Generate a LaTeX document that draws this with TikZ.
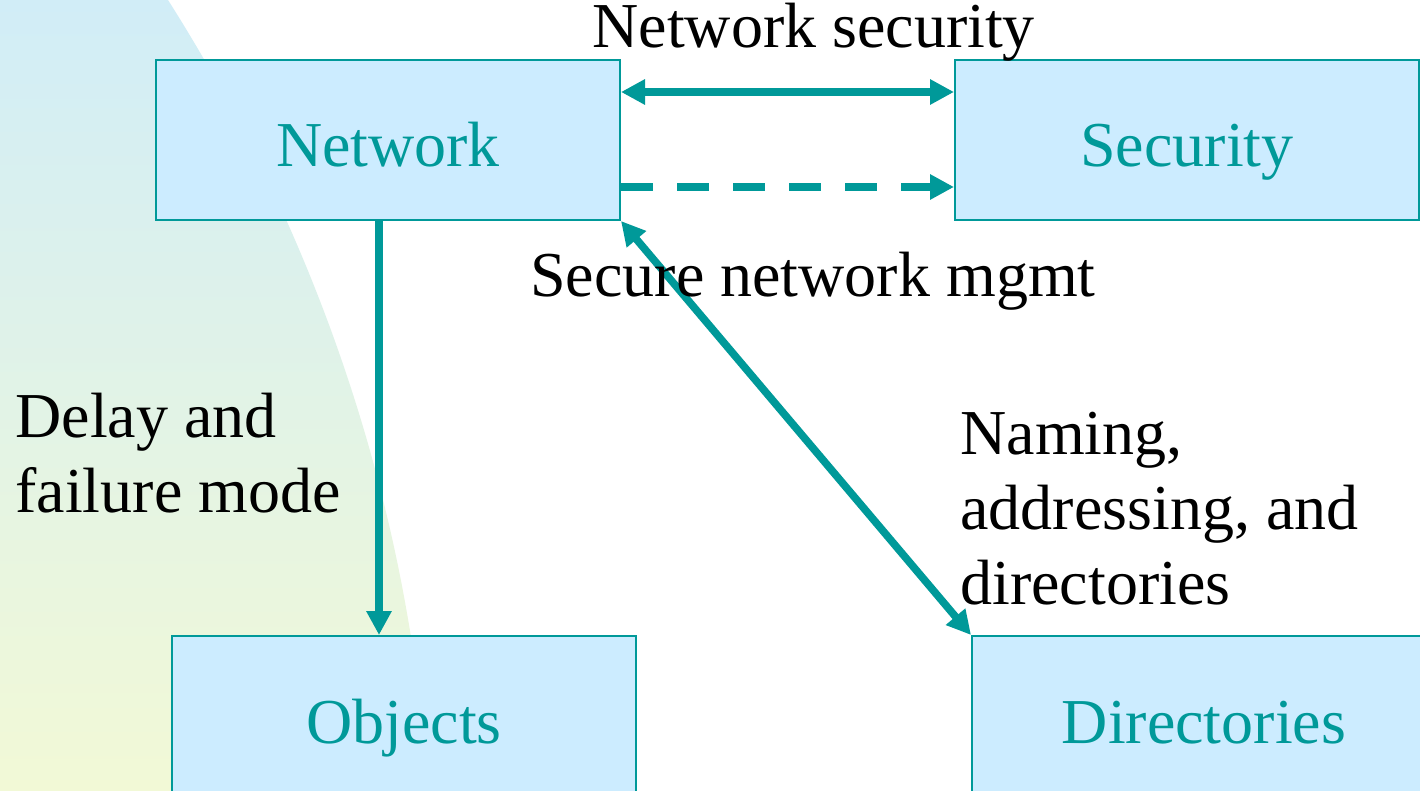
\documentclass[tikz,border=0pt]{standalone}
\usepackage{fontspec}
\setmainfont{Liberation Serif}
\usetikzlibrary{arrows.meta}
\definecolor{teal}{RGB}{0,153,153}
\definecolor{boxfill}{RGB}{204,236,255}
\definecolor{bgtop}{RGB}{209,237,247}
\definecolor{bgbot}{RGB}{242,249,214}
\tikzset{
  box/.style={draw=teal, fill=boxfill, line width=1pt, minimum width=232pt,
    minimum height=80pt, inner sep=0pt, text=teal, text height=27pt, text depth=0pt,
    font=\fontsize{32}{37.5}\selectfont},
  lbl/.style={inner sep=0pt, anchor=base west, align=left,
    font=\fontsize{32}{37.5}\selectfont},
  conn/.style={draw=teal, line width=3.8pt},
  tip/.style={-{Triangle[length=12pt,width=12pt]}},
  dtip/.style={{Triangle[length=12pt,width=12pt]}-{Triangle[length=12pt,width=12pt]}}
}
\begin{document}
\begin{tikzpicture}[x=0.5pt,y=-0.5pt]
\useasboundingbox (0,0) rectangle (1420,791);
\clip (0,0) rectangle (1420,791);
\fill[white] (0,0) rectangle (1420,791);
% background swoosh
\shade[top color=bgtop, bottom color=bgbot]
  (0,0) -- (168,0) .. controls (295,200) and (408,470) .. (428,791) -- (0,791) -- cycle;
% boxes
\node[box] (net) at (388,140) {Network};
\node[box] (sec) at (1187,140) {Security};
\node[box] (obj) at (404,716) {Objects};
\node[box] (dir) at (1204,716) {Directories};
% helper coordinates
\coordinate (h1) at (0,92);
\coordinate (h2) at (0,187);
\coordinate (vx) at (379,0);
% connectors
\draw[conn, dtip] (net.east |- h1) -- (sec.west |- h1);
\draw[conn, tip, dash pattern=on 16pt off 12pt] (net.east |- h2) -- (sec.west |- h2);
\draw[conn, tip] (vx |- net.south) -- (vx |- obj.north);
\draw[conn, dtip] (net.south east) -- (dir.north west);
% labels
\node[lbl] (l1) at (592,48) {Network security};
\node[lbl] (l2) at (530,297) {Secure network mgmt};
\node[lbl] (l3) at (15,512) {Delay and\\failure mode};
\node[lbl] (l4) at (960,604) {Naming,\\addressing, and\\directories};
\end{tikzpicture}
\end{document}
